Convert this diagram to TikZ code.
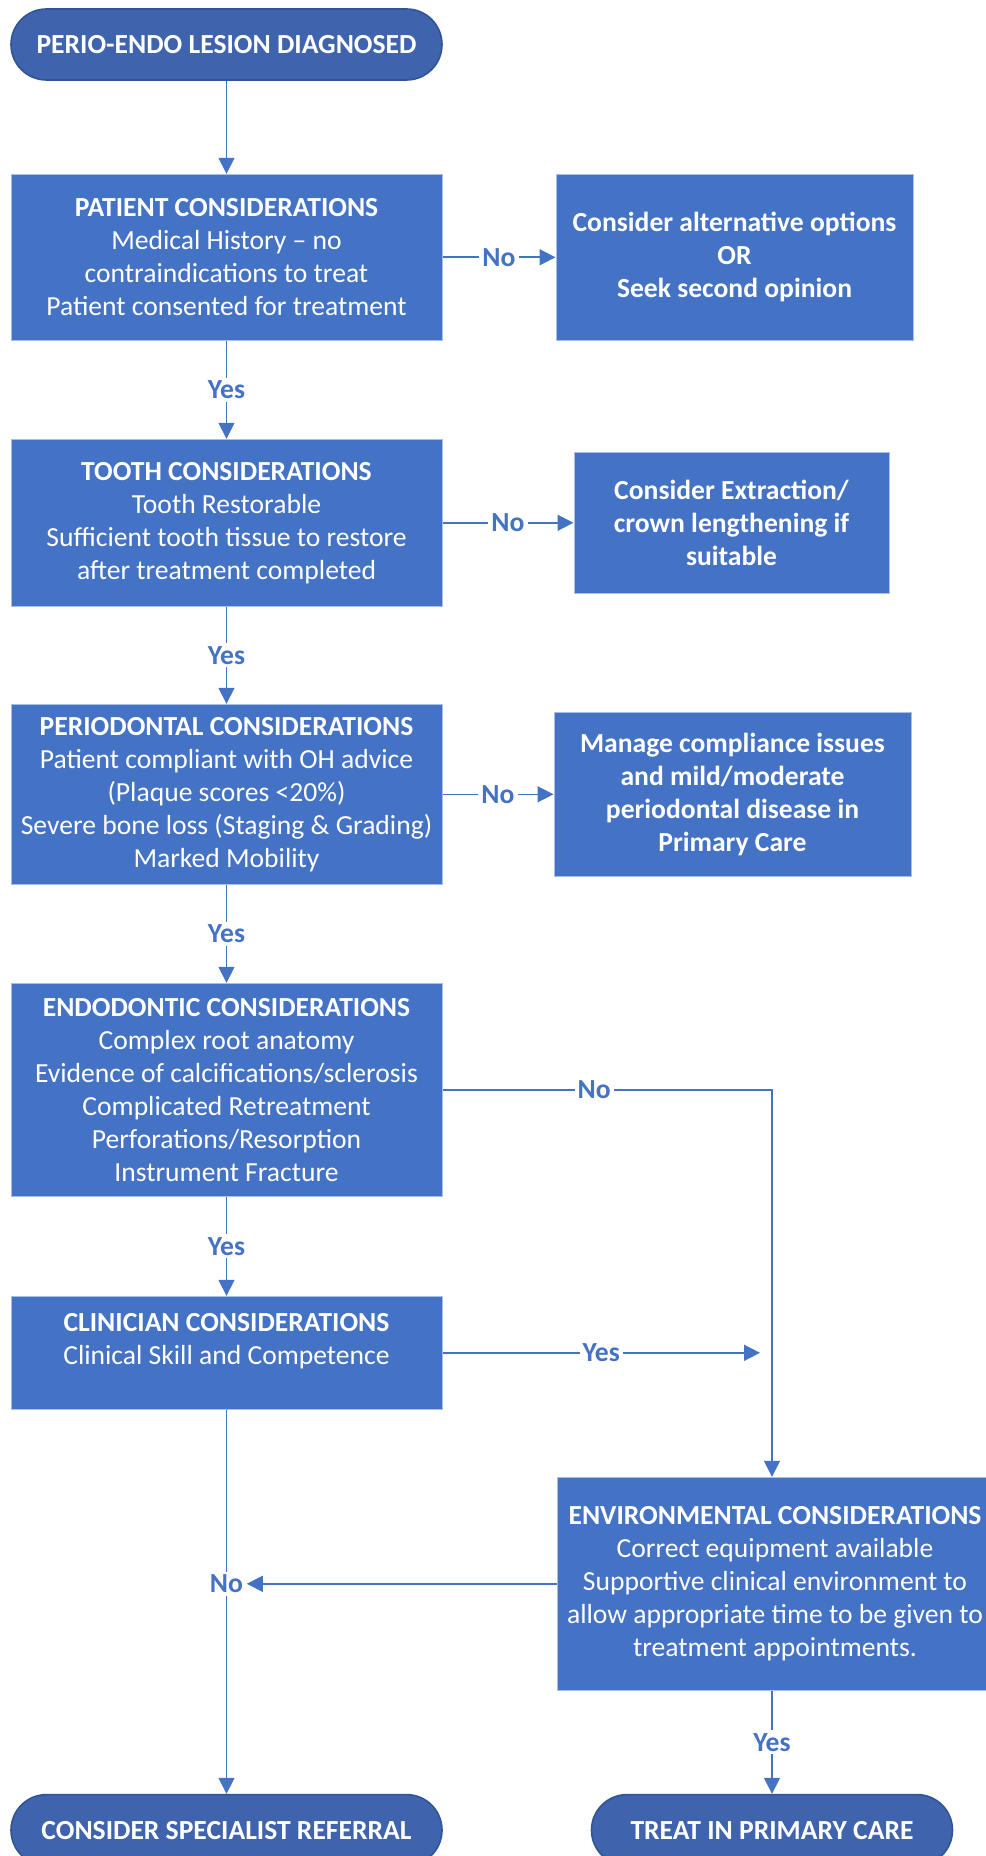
\documentclass[tikz,border=0pt]{standalone}
\usepackage{fontspec}
\setmainfont{Carlito}
\usetikzlibrary{positioning,arrows.meta}
\definecolor{boxblue}{HTML}{4472C4}
\definecolor{boxline}{HTML}{A9BEE4}
\definecolor{termblue}{HTML}{3F63AD}
\definecolor{termline}{HTML}{2F5597}

\begin{document}
\begin{tikzpicture}[x=1pt,y=1pt,>={Triangle[length=8pt,width=8pt]}]
\tikzstyle{every path}=[line width=0.8pt];
\tikzstyle{txt}=[font=\fontsize{13.8pt}{16.5pt}\selectfont, text=white, align=center];
\tikzstyle{box}=[txt, rectangle, fill=boxblue, draw=boxline, line width=0.5pt, inner sep=0pt, minimum width=215.5pt];
\tikzstyle{side}=[font=\fontsize{13.8pt}{16.5pt}\selectfont\bfseries];
\tikzstyle{term}=[txt, font=\fontsize{13.8pt}{16.5pt}\selectfont\bfseries, rectangle, rounded corners=17.75pt, fill=termblue, draw=termline, inner sep=0pt, minimum width=215.5pt, minimum height=35.5pt];
\tikzstyle{flow}=[->, color=boxblue];
\tikzstyle{lbl}=[font=\fontsize{13.8pt}{16.5pt}\selectfont\bfseries, text=boxblue, fill=white, inner sep=1.5pt];
\useasboundingbox (0,0) rectangle (492.5,-928);
% main column
\node[term] (start) at (113.25,-22.25) {PERIO-ENDO LESION DIAGNOSED};
\node[box, minimum height=83pt] (patient) [below=46.5pt of start] {\textbf{PATIENT CONSIDERATIONS}\\Medical History – no\\contraindications to treat\\Patient consented for treatment};
\node[box, minimum height=83.5pt] (tooth) [below=49pt of patient] {\textbf{TOOTH CONSIDERATIONS}\\Tooth Restorable\\Sufficient tooth tissue to restore\\after treatment completed};
\node[box, minimum height=90pt] (perio) [below=48.5pt of tooth] {\textbf{PERIODONTAL CONSIDERATIONS}\\Patient compliant with OH advice\\(Plaque scores <20\%)\\Severe bone loss (Staging \& Grading)\\Marked Mobility};
\node[box, minimum height=106.5pt] (endo) [below=49pt of perio] {\textbf{ENDODONTIC CONSIDERATIONS}\\Complex root anatomy\\Evidence of calcifications/sclerosis\\Complicated Retreatment\\Perforations/Resorption\\Instrument Fracture};
\node[box, minimum height=56.5pt] (clin) [below=49.5pt of endo] {};
\node[txt] (clintext) at ([yshift=5.75pt]clin.center) {\textbf{CLINICIAN CONSIDERATIONS}\\Clinical Skill and Competence};
\node[term] (spec) [below=192pt of clin] {CONSIDER SPECIALIST REFERRAL};
% right column
\node[box, side, minimum width=178.5pt, minimum height=83pt] (alt) [right=56.5pt of patient] {Consider alternative options\\OR\\Seek second opinion};
\node[box, side, minimum width=157.5pt, minimum height=70.5pt] (extract) [right=65.5pt of tooth] {Consider Extraction/\\crown lengthening if\\suitable};
\node[box, side, minimum width=178.5pt, minimum height=82pt] (manage) [right=55.5pt of perio] {Manage compliance issues\\and mild/moderate\\periodontal disease in\\Primary Care};
\node[box, minimum width=218pt, minimum height=106.5pt] (env) [below right=140pt and 57pt of endo] {\textbf{ENVIRONMENTAL CONSIDERATIONS}\\Correct equipment available\\Supportive clinical environment to\\allow appropriate time to be given to\\treatment appointments.};
\node[term, minimum width=180.5pt] (treat) [below=51.5pt of env.south west, xshift=107.75pt, anchor=north] {TREAT IN PRIMARY CARE};
\coordinate (clinend) at ([xshift=-6pt]clin.east -| treat.north);
% connectors
\path[flow] (start) edge (patient);
\path[flow] (patient) edge node[lbl] {No} (alt);
\path[flow] (patient) edge node[lbl] {Yes} (tooth);
\path[flow] (tooth) edge node[lbl] {No} (extract);
\path[flow] (tooth) edge node[lbl] {Yes} (perio);
\path[flow] (perio) edge node[lbl] {No} (manage);
\path[flow] (perio) edge node[lbl] {Yes} (endo);
\path[flow] (endo) edge node[lbl] {Yes} (clin);
\draw[flow] (endo.east) -| node[lbl, pos=0.23] {No} (treat.north |- env.north);
\path[flow] (clin.east) edge node[lbl] {Yes} (clinend);
\draw[flow] (clin) -- (spec);
\node[lbl] (specno) at (clin.south |- env.west) {No};
\path[flow] (env.west) edge (specno.east);
\path[flow] (treat.north |- env.south) edge node[lbl] {Yes} (treat);
\end{tikzpicture}
\end{document}
